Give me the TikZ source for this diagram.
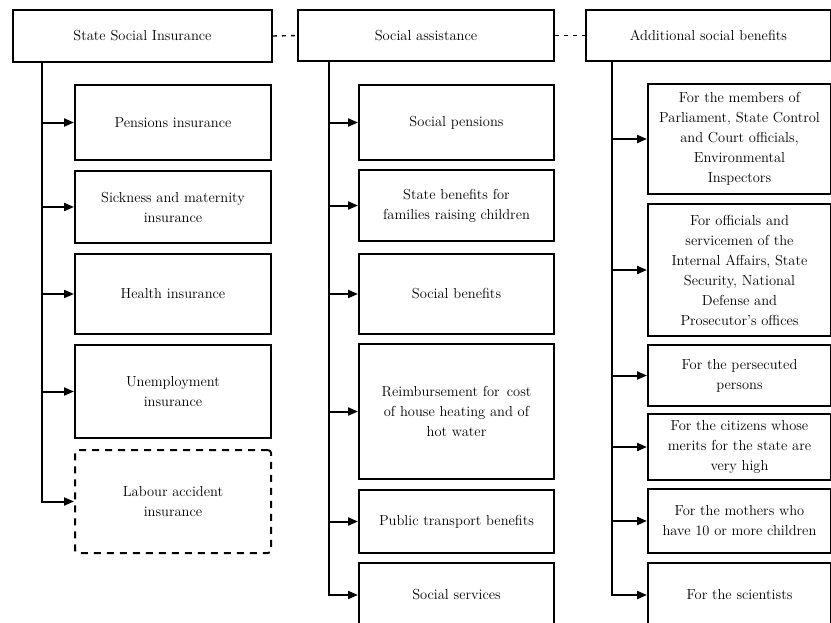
\documentclass[tikz,border=0pt]{standalone}
\usetikzlibrary{arrows.meta}
\begin{document}
\begin{tikzpicture}[x=1pt,y=-1pt,
  box/.style={draw, line width=2pt, align=center, inner sep=1pt, anchor=north west,
    font=\fontsize{14.5}{20}\selectfont},
  dbox/.style={box, dash pattern=on 7pt off 6pt, rounded corners=3pt},
  arr/.style={line width=2pt, -{Triangle[length=10pt,width=8pt]}},
  link/.style={line width=1.4pt, dash pattern=on 4pt off 5pt}]
\useasboundingbox (0,0) rectangle (831,622);
\fill[white] (0,0) rectangle (831,622);
% top boxes
\node[box, minimum width=259pt, minimum height=52pt] (A) at (12,9) {State Social Insurance};
\node[box, minimum width=256pt, minimum height=51pt] (B) at (297,9) {Social assistance};
\node[box, minimum width=245pt, minimum height=51pt] (C) at (585,9) {Additional social benefits};
\draw[link] (A.east) -- (B.west);
\draw[link] (B.east) -- (C.west);
% column 1
\node[box, minimum width=196pt, minimum height=75pt] (p1) at (74,84) {Pensions insurance};
\node[box, minimum width=196pt, minimum height=72pt] (p2) at (74,170) {Sickness and maternity\\insurance};
\node[box, minimum width=196pt, minimum height=80pt] (p3) at (74,253) {Health insurance};
\node[box, minimum width=196pt, minimum height=93pt] (p4) at (74,344) {Unemployment\\insurance};
\node[dbox, minimum width=196pt, minimum height=103pt] (p5) at (74,449) {Labour accident\\insurance};
% column 2
\node[box, minimum width=195pt, minimum height=75pt] (s1) at (358,84) {Social pensions};
\node[box, minimum width=195pt, minimum height=71pt] (s2) at (358,169) {State benefits for\\families raising children};
\node[box, minimum width=195pt, minimum height=80pt] (s3) at (358,253) {Social benefits};
\node[box, minimum width=195pt, minimum height=135pt] (s4) at (358,343) {Reimbursement for\, cost\\of house heating and of\\hot water};
\node[box, minimum width=195pt, minimum height=63pt] (s5) at (358,489) {Public transport benefits};
\node[box, minimum width=195pt, minimum height=64pt] (s6) at (358,562) {Social services};
% column 3
\node[box, minimum width=183pt, minimum height=110pt] (a1) at (647,83) {For the members of\\Parliament, State Control\\and Court officials,\\Environmental\\Inspectors};
\node[box, minimum width=183pt, minimum height=132pt] (a2) at (647,203) {For officials and\\servicemen of the\\Internal Affairs, State\\Security, National\\Defense and\\Prosecutor's offices};
\node[box, minimum width=183pt, minimum height=61pt] (a3) at (647,344) {For the persecuted\\persons};
\node[box, minimum width=183pt, minimum height=66pt] (a4) at (647,413) {For the citizens whose\\merits for the state are\\very high};
\node[box, minimum width=183pt, minimum height=64pt] (a5) at (647,488) {For the mothers who\\have 10 or more children};
\node[box, minimum width=183pt, minimum height=64pt] (a6) at (647,562) {For the scientists};
% connectors
\foreach \n in {p1,p2,p3,p4,p5}
  \draw[arr] ([xshift=30pt]A.south west) |- (\n.west);
\foreach \n in {s1,s2,s3,s4,s5,s6}
  \draw[arr] ([xshift=32pt]B.south west) |- (\n.west);
\foreach \n in {a1,a2,a3,a4,a5,a6}
  \draw[arr] ([xshift=27pt]C.south west) |- (\n.west);
\end{tikzpicture}
\end{document}
